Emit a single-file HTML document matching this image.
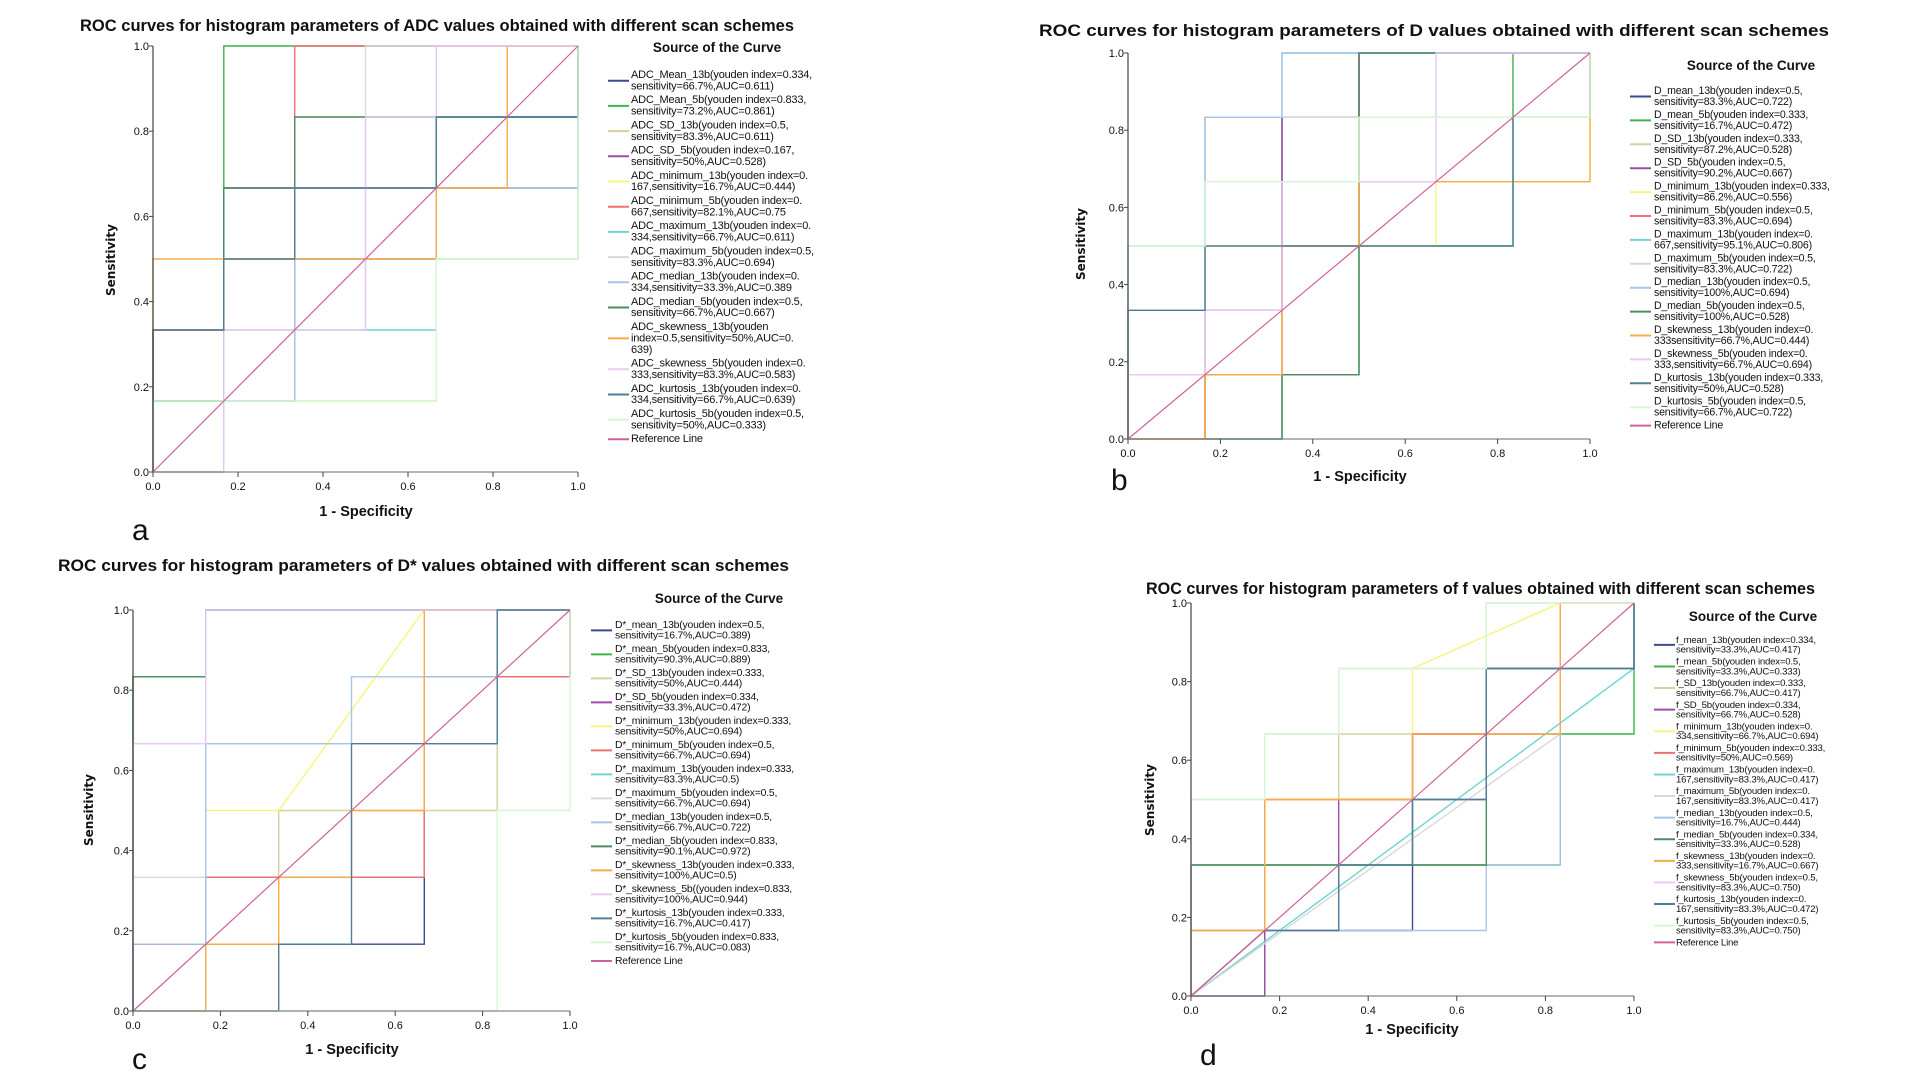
<!DOCTYPE html>
<html><head><meta charset="utf-8">
<style>
html,body{margin:0;padding:0;background:#fff;}
svg{display:block;}
text{font-family:"Liberation Sans Narrow","Liberation Sans",sans-serif;fill:#111;}
.title{font-weight:bold;font-size:17px;}
.tick{font-size:11px;}
.legt{font-weight:bold;font-size:13.5px;}
.ylab{font-family:"DejaVu Sans","Liberation Sans",sans-serif;font-weight:bold;font-size:12px;}
.xlab{font-weight:bold;font-size:14.5px;}
.letter{font-family:"Liberation Sans",sans-serif;font-size:30px;}
</style></head>
<body>
<svg id="fig" width="1920" height="1080" viewBox="0 0 1920 1080" xmlns="http://www.w3.org/2000/svg"></svg>
<script>
// ---- series data: ROC points in sixth-units [fpr, tpr] ----
const seriesA = [
 [[0,0],[0,2],[1,2],[1,4],[4,4],[4,5],[6,5],[6,6]],
 [[0,0],[0,1],[1,1],[1,6],[6,6]],
 [[0,0],[1,0],[1,2],[2,2],[2,5],[5,5],[5,6],[6,6]],
 [[0,0],[1,0],[1,1],[2,1],[2,3],[4,3],[4,4],[6,4],[6,6]],
 [[0,0],[0,1],[4,1],[4,3],[6,3],[6,6]],
 [[0,0],[0,2],[1,2],[1,3],[2,3],[2,6],[6,6]],
 [[0,0],[0,1],[2,1],[2,2],[4,2],[4,3],[6,3],[6,6]],
 [[0,0],[1,0],[1,2],[3,2],[3,6],[6,6]],
 [[0,0],[0,1],[2,1],[2,3],[4,3],[4,4],[6,4],[6,6]],
 [[0,0],[0,1],[1,1],[1,4],[2,4],[2,5],[6,5],[6,6]],
 [[0,0],[0,3],[4,3],[4,4],[5,4],[5,6],[6,6]],
 [[0,0],[1,0],[1,2],[3,2],[3,5],[4,5],[4,6],[6,6]],
 [[0,0],[0,2],[1,2],[1,3],[2,3],[2,4],[4,4],[4,5],[6,5],[6,6]],
 [[0,0],[0,1],[4,1],[4,3],[6,3],[6,6]]
];
const seriesB = [
 [[0,0],[1,0],[1,2],[2,2],[2,5],[3,5],[3,6],[6,6]],
 [[0,0],[2,0],[2,1],[3,1],[3,3],[5,3],[5,6],[6,6]],
 [[0,0],[1,0],[1,1],[2,1],[2,3],[3,3],[3,5],[6,5],[6,6]],
 [[0,0],[1,0],[1,2],[2,2],[2,5],[3,5],[3,6],[6,6]],
 [[0,0],[1,0],[1,3],[4,3],[4,4],[6,4],[6,6]],
 [[0,0],[1,0],[1,1],[2,1],[2,3],[3,3],[3,6],[6,6]],
 [[0,0],[0,3],[1,3],[1,5],[2,5],[2,6],[6,6]],
 [[0,0],[0,1],[1,1],[1,5],[6,5],[6,6]],
 [[0,0],[0,2],[1,2],[1,5],[2,5],[2,6],[6,6]],
 [[0,0],[2,0],[2,1],[3,1],[3,6],[6,6]],
 [[0,0],[1,0],[1,1],[2,1],[2,3],[3,3],[3,4],[6,4],[6,5],[6,6]],
 [[0,0],[0,1],[1,1],[1,2],[2,2],[2,4],[4,4],[4,6],[6,6]],
 [[0,0],[0,2],[1,2],[1,3],[5,3],[5,5],[6,5],[6,6]],
 [[0,0],[0,3],[1,3],[1,4],[3,4],[3,5],[6,5],[6,6]]
];
const seriesC = [
 [[0,0],[0,1],[4,1],[4,4],[5,4],[5,6],[6,6]],
 [[0,0],[0,5],[1,5],[1,6],[6,6]],
 [[0,0],[1,0],[1,1],[2,1],[2,3],[5,3],[5,5],[6,5],[6,6]],
 [[0,0],[1,0],[1,2],[4,2],[4,5],[6,5],[6,6]],
 [[0,0],[1,0],[1,3],[2,3],[4,6],[6,6]],
 [[0,0],[0,1],[1,1],[1,2],[4,2],[4,5],[6,5],[6,6]],
 [[0,0],[1,0],[1,6],[6,6]],
 [[0,0],[0,2],[1,2],[1,4],[5,4],[5,6],[6,6]],
 [[0,0],[0,1],[1,1],[1,4],[3,4],[3,5],[5,5],[5,6],[6,6]],
 [[0,0],[0,5],[1,5],[1,6],[6,6]],
 [[0,0],[1,0],[1,1],[2,1],[2,2],[3,2],[3,3],[4,3],[4,6],[6,6]],
 [[0,0],[0,4],[1,4],[1,6],[6,6]],
 [[0,0],[2,0],[2,1],[3,1],[3,4],[5,4],[5,6],[6,6]],
 [[0,0],[5,0],[5,3],[6,3],[6,6]]
];
const seriesD = [
 [[0,0],[1,0],[1,1],[3,1],[3,3],[4,3],[4,5],[6,5],[6,6]],
 [[0,0],[0,2],[5,2],[5,4],[6,4],[6,6]],
 [[0,0],[0,1],[1,1],[1,3],[2,3],[2,4],[5,4],[5,5],[6,5],[6,6]],
 [[0,0],[1,0],[1,1],[2,1],[2,3],[3,3],[3,4],[4,4],[4,5],[6,5],[6,6]],
 [[0,0],[0,1],[1,1],[1,3],[3,3],[3,5],[5,6],[6,6]],
 [[0,0],[0,1],[1,1],[1,3],[3,3],[3,4],[5,4],[5,6],[6,6]],
 [[0,0],[6,5],[6,6]],
 [[0,0],[5,4],[5,5],[6,5],[6,6]],
 [[0,0],[0,1],[4,1],[4,2],[5,2],[5,5],[6,5],[6,6]],
 [[0,0],[0,2],[4,2],[4,5],[6,5],[6,6]],
 [[0,0],[0,1],[1,1],[1,3],[3,3],[3,4],[5,4],[5,6],[6,6]],
 [[0,0],[0,3],[1,3],[1,4],[2,4],[2,5],[4,5],[4,6],[6,6]],
 [[0,0],[1,1],[2,1],[2,2],[3,2],[3,3],[4,3],[4,5],[6,5],[6,6]],
 [[0,0],[0,3],[1,3],[1,4],[2,4],[2,5],[4,5],[4,6],[6,6]]
];
const refLine = [[0,0],[6,6]];
const tickLabels = ["0.0","0.2","0.4","0.6","0.8","1.0"];
const tickValues = [0,0.2,0.4,0.6,0.8,1.0];

const legendA = [
 ["ADC_Mean_13b(youden index=0.334,","sensitivity=66.7%,AUC=0.611)"],
 ["ADC_Mean_5b(youden index=0.833,","sensitivity=73.2%,AUC=0.861)"],
 ["ADC_SD_13b(youden index=0.5,","sensitivity=83.3%,AUC=0.611)"],
 ["ADC_SD_5b(youden index=0.167,","sensitivity=50%,AUC=0.528)"],
 ["ADC_minimum_13b(youden index=0.","167,sensitivity=16.7%,AUC=0.444)"],
 ["ADC_minimum_5b(youden index=0.","667,sensitivity=82.1%,AUC=0.75"],
 ["ADC_maximum_13b(youden index=0.","334,sensitivity=66.7%,AUC=0.611)"],
 ["ADC_maximum_5b(youden index=0.5,","sensitivity=83.3%,AUC=0.694)"],
 ["ADC_median_13b(youden index=0.","334,sensitivity=33.3%,AUC=0.389"],
 ["ADC_median_5b(youden index=0.5,","sensitivity=66.7%,AUC=0.667)"],
 ["ADC_skewness_13b(youden","index=0.5,sensitivity=50%,AUC=0.","639)"],
 ["ADC_skewness_5b(youden index=0.","333,sensitivity=83.3%,AUC=0.583)"],
 ["ADC_kurtosis_13b(youden index=0.","334,sensitivity=66.7%,AUC=0.639)"],
 ["ADC_kurtosis_5b(youden index=0.5,","sensitivity=50%,AUC=0.333)"],
 ["Reference Line"]
];
const legendB = [
 ["D_mean_13b(youden index=0.5,","sensitivity=83.3%,AUC=0.722)"],
 ["D_mean_5b(youden index=0.333,","sensitivity=16.7%,AUC=0.472)"],
 ["D_SD_13b(youden index=0.333,","sensitivity=87.2%,AUC=0.528)"],
 ["D_SD_5b(youden index=0.5,","sensitivity=90.2%,AUC=0.667)"],
 ["D_minimum_13b(youden index=0.333,","sensitivity=86.2%,AUC=0.556)"],
 ["D_minimum_5b(youden index=0.5,","sensitivity=83.3%,AUC=0.694)"],
 ["D_maximum_13b(youden index=0.","667,sensitivity=95.1%,AUC=0.806)"],
 ["D_maximum_5b(youden index=0.5,","sensitivity=83.3%,AUC=0.722)"],
 ["D_median_13b(youden index=0.5,","sensitivity=100%,AUC=0.694)"],
 ["D_median_5b(youden index=0.5,","sensitivity=100%,AUC=0.528)"],
 ["D_skewness_13b(youden index=0.","333sensitivity=66.7%,AUC=0.444)"],
 ["D_skewness_5b(youden index=0.","333,sensitivity=66.7%,AUC=0.694)"],
 ["D_kurtosis_13b(youden index=0.333,","sensitivity=50%,AUC=0.528)"],
 ["D_kurtosis_5b(youden index=0.5,","sensitivity=66.7%,AUC=0.722)"],
 ["Reference Line"]
];
const legendC = [
 ["D*_mean_13b(youden index=0.5,","sensitivity=16.7%,AUC=0.389)"],
 ["D*_mean_5b(youden index=0.833,","sensitivity=90.3%,AUC=0.889)"],
 ["D*_SD_13b(youden index=0.333,","sensitivity=50%,AUC=0.444)"],
 ["D*_SD_5b(youden index=0.334,","sensitivity=33.3%,AUC=0.472)"],
 ["D*_minimum_13b(youden index=0.333,","sensitivity=50%,AUC=0.694)"],
 ["D*_minimum_5b(youden index=0.5,","sensitivity=66.7%,AUC=0.694)"],
 ["D*_maximum_13b(youden index=0.333,","sensitivity=83.3%,AUC=0.5)"],
 ["D*_maximum_5b(youden index=0.5,","sensitivity=66.7%,AUC=0.694)"],
 ["D*_median_13b(youden index=0.5,","sensitivity=66.7%,AUC=0.722)"],
 ["D*_median_5b(youden index=0.833,","sensitivity=90.1%,AUC=0.972)"],
 ["D*_skewness_13b(youden index=0.333,","sensitivity=100%,AUC=0.5)"],
 ["D*_skewness_5b((youden index=0.833,","sensitivity=100%,AUC=0.944)"],
 ["D*_kurtosis_13b(youden index=0.333,","sensitivity=16.7%,AUC=0.417)"],
 ["D*_kurtosis_5b(youden index=0.833,","sensitivity=16.7%,AUC=0.083)"],
 ["Reference Line"]
];
const legendD = [
 ["f_mean_13b(youden index=0.334,","sensitivity=33.3%,AUC=0.417)"],
 ["f_mean_5b(youden index=0.5,","sensitivity=33.3%,AUC=0.333)"],
 ["f_SD_13b(youden index=0.333,","sensitivity=66.7%,AUC=0.417)"],
 ["f_SD_5b(youden index=0.334,","sensitivity=66.7%,AUC=0.528)"],
 ["f_minimum_13b(youden index=0.","334,sensitivity=66.7%,AUC=0.694)"],
 ["f_minimum_5b(youden index=0.333,","sensitivity=50%,AUC=0.569)"],
 ["f_maximum_13b(youden index=0.","167,sensitivity=83.3%,AUC=0.417)"],
 ["f_maximum_5b(youden index=0.","167,sensitivity=83.3%,AUC=0.417)"],
 ["f_median_13b(youden index=0.5,","sensitivity=16.7%,AUC=0.444)"],
 ["f_median_5b(youden index=0.334,","sensitivity=33.3%,AUC=0.528)"],
 ["f_skewness_13b(youden index=0.","333,sensitivity=16.7%,AUC=0.667)"],
 ["f_skewness_5b(youden index=0.5,","sensitivity=83.3%,AUC=0.750)"],
 ["f_kurtosis_13b(youden index=0.","167,sensitivity=83.3%,AUC=0.472)"],
 ["f_kurtosis_5b(youden index=0.5,","sensitivity=83.3%,AUC=0.750)"],
 ["Reference Line"]
];
const seriesColors = ["#3d4a8c","#3cb44b","#d8d0a0","#9b4fa6","#f8f47a","#f07070","#70d4d4","#d8d8d8","#a8c4e8","#4f8a66","#f8ac48","#e8c8f4","#4f7f96","#d4f8d4","#d0609c"];

const NS="http://www.w3.org/2000/svg";
const fig=document.getElementById('fig');
function mk(tag,attrs,parent){const e=document.createElementNS(NS,tag);for(const k in attrs)e.setAttribute(k,attrs[k]);(parent||fig).appendChild(e);return e;}

const panels=[
 {id:'a',series:seriesA,legend:legendA,title:"ROC curves for histogram parameters of ADC values obtained with different scan schemes",
  tx:80,tw:714,ty:31,x0:153,x1:578,yT:46,yB:472,legTitleX:717,legTitleY:52,swX:608,txX:631,ly0:74,lh:11.4,gap:2.4,fs:11,
  ylabX:115,ylabY:260,xlabX:366,xlabY:516,letX:132,letY:540},
 {id:'b',series:seriesB,legend:legendB,title:"ROC curves for histogram parameters of D values obtained with different scan schemes",
  tx:1039,tw:790,ty:36,x0:1128,x1:1590,yT:53,yB:439,legTitleX:1751,legTitleY:70,swX:1630,txX:1654,ly0:90,lh:11,gap:1.9,fs:10.6,
  ylabX:1085,ylabY:244,xlabX:1360,xlabY:481,letX:1111,letY:490},
 {id:'c',series:seriesC,legend:legendC,title:"ROC curves for histogram parameters of D* values obtained with different scan schemes",
  tx:58,tw:731,ty:571,x0:133,x1:570,yT:610,yB:1011,legTitleX:719,legTitleY:603,swX:591,txX:615,ly0:624,lh:10.7,gap:2.6,fs:10.4,
  ylabX:93,ylabY:810,xlabX:352,xlabY:1054,letX:132,letY:1069},
 {id:'d',series:seriesD,legend:legendD,title:"ROC curves for histogram parameters of f values obtained with different scan schemes",
  tx:1146,tw:669,ty:594,x0:1191,x1:1634,yT:603,yB:996,legTitleX:1753,legTitleY:621,swX:1654,txX:1676,ly0:639,lh:9.7,gap:2.2,fs:9.6,
  ylabX:1154,ylabY:800,xlabX:1412,xlabY:1034,letX:1200,letY:1065}
];

panels.forEach(p=>{
  const g=mk('g',{});
  
  
  const sx=v=>p.x0+(p.x1-p.x0)*v;
  const sy=v=>p.yB-(p.yB-p.yT)*v;
  const t=mk('text',{x:p.tx,y:p.ty,'class':'title',textLength:p.tw,lengthAdjust:'spacingAndGlyphs'},g);
  t.textContent=p.title;
  
  
  const cg=mk('g',{},g);
  
  
  p.series.forEach((s,i)=>{
    const pts=s.map(q=>sx(q[0]/6).toFixed(1)+','+sy(q[1]/6).toFixed(1)).join(' ');
    const pl=mk('polyline',{points:pts,fill:'none',stroke:seriesColors[i],'stroke-width':1.4},cg);
    
    
  });
  const rpts=refLine.map(q=>sx(q[0]/6).toFixed(1)+','+sy(q[1]/6).toFixed(1)).join(' ');
  const rl=mk('polyline',{points:rpts,fill:'none',stroke:seriesColors[14],'stroke-width':1.2},cg);
  
  
  const ya=mk('line',{x1:p.x0,y1:p.yT,x2:p.x0,y2:p.yB,stroke:'#444','stroke-width':1.2},g);
  
  
  const xa=mk('line',{x1:p.x0,y1:p.yB,x2:p.x1,y2:p.yB,stroke:'#888','stroke-width':1.2},g);
  
  
  tickValues.forEach((v,i)=>{
    mk('line',{x1:p.x0-4,y1:sy(v),x2:p.x0,y2:sy(v),stroke:'#444'},g);
    const yl=mk('text',{x:p.x0-4,y:sy(v)+4,'class':'tick','text-anchor':'end'},g);
    yl.textContent=tickLabels[i];
    
    
    mk('line',{x1:sx(v),y1:p.yB,x2:sx(v),y2:p.yB+5,stroke:'#444'},g);
    const xl=mk('text',{x:sx(v),y:p.yB+18,'class':'tick','text-anchor':'middle'},g);
    xl.textContent=tickLabels[i];
    
    
  });
  const yt=mk('text',{x:p.ylabX,y:p.ylabY,'class':'ylab','text-anchor':'middle',transform:'rotate(-90 '+p.ylabX+' '+p.ylabY+')'},g);
  yt.textContent='Sensitivity';
  
  
  const xt=mk('text',{x:p.xlabX,y:p.xlabY,'class':'xlab','text-anchor':'middle'},g);
  xt.textContent='1 - Specificity';
  
  
  const lt=mk('text',{x:p.letX,y:p.letY,'class':'letter'},g);
  lt.textContent=p.id;
  
  
  const lg=mk('g',{},g);
  
  
  const ltt=mk('text',{x:p.legTitleX,y:p.legTitleY,'class':'legt','text-anchor':'middle'},lg);
  ltt.textContent='Source of the Curve';
  
  
  let y=p.ly0;
  p.legend.forEach((lines,i)=>{
    const eg=mk('g',{},lg);
    
    
    const swY=y+p.lh*(lines.length-1)/2;
    mk('line',{x1:p.swX,y1:swY+1,x2:p.swX+21,y2:swY+1,stroke:seriesColors[i],'stroke-width':2},eg);
    lines.forEach((ln,k)=>{
      const tx=mk('text',{x:p.txX,y:y+k*p.lh+4,'font-size':p.fs,'letter-spacing':'-0.2'},eg);
      tx.textContent=ln;
    });
    y+=lines.length*p.lh+p.gap;
  });
});
</script>
</body></html>
